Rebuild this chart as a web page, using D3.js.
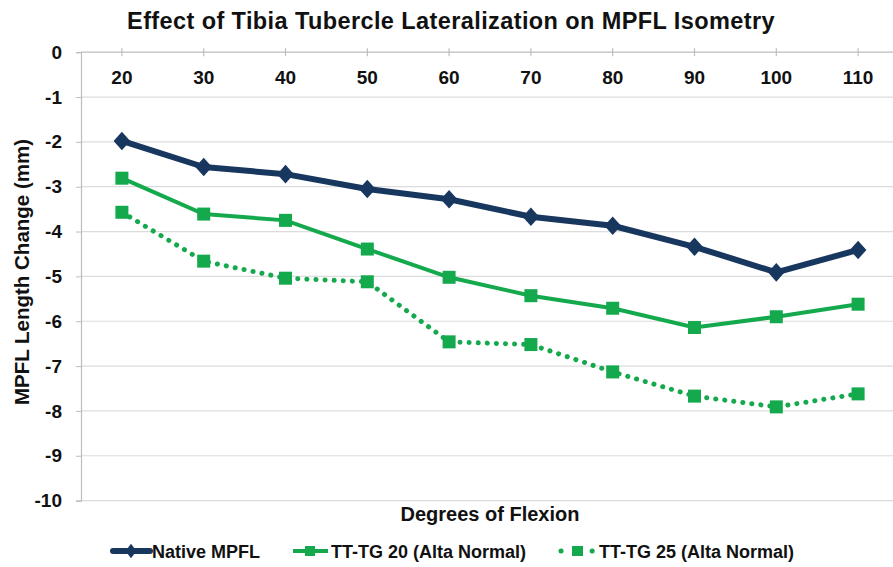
<!DOCTYPE html>
<html><head><meta charset="utf-8">
<script src="https://cdn.jsdelivr.net/npm/d3@7"></script>
<style>body{margin:0;background:#fff}text{font-family:"Liberation Sans",Arial,sans-serif;font-weight:bold;fill:#111}</style>
</head><body><svg id="c" width="893" height="567"></svg>
<script>
const categories = [20,30,40,50,60,70,80,90,100,110];
const nativeMPFL = [-1.98,-2.56,-2.72,-3.05,-3.28,-3.67,-3.87,-4.34,-4.91,-4.41];
const ttTg20 = [-2.81,-3.61,-3.75,-4.39,-5.02,-5.43,-5.71,-6.14,-5.90,-5.62];
const ttTg25 = [-3.57,-4.66,-5.04,-5.12,-6.46,-6.52,-7.13,-7.67,-7.91,-7.62];
const yTicks = [0,-1,-2,-3,-4,-5,-6,-7,-8,-9,-10];
const seriesNames = ["Native MPFL","TT-TG 20 (Alta Normal)","TT-TG 25 (Alta Normal)"];

const svg = d3.select("#c");
const navy = "#17375e", green = "#14a94d";
const x = d3.scaleBand().domain(categories).range([81, 81 + 81.8*10]);
const cx = d => x(d) + x.bandwidth()/2;
const y = d3.scaleLinear().domain([-10,0]).range([500.6,52.2]);

// gridlines
svg.append("g").selectAll("line").data(yTicks.filter(d=>d!==0)).join("line")
  .attr("x1",81).attr("x2",893).attr("y1",d=>y(d)).attr("y2",d=>y(d))
  .attr("stroke","#dcdcdc").attr("stroke-width",1.2);

// y axis
const ya = svg.append("g").attr("transform","translate(81,0)")
  .call(d3.axisLeft(y).tickValues(yTicks).tickSize(5).tickPadding(14).tickFormat(d=>String(d)));
ya.select(".domain").attr("stroke","#bdbdbd").attr("stroke-width",1.2);
ya.selectAll(".tick line").attr("stroke","#bdbdbd");
ya.selectAll("text").style("font-size","19px").attr("fill","#111");

// top x axis at y=0
const xa = svg.append("g").attr("transform",`translate(0,${y(0)})`)
  .call(d3.axisBottom(x).tickSize(0).tickPadding(18));
xa.select(".domain").remove();
svg.append("line").attr("x1",81).attr("x2",893).attr("y1",y(0)).attr("y2",y(0)).attr("stroke","#bdbdbd").attr("stroke-width",1.2);
svg.append("g").selectAll("line").data(categories).join("line")
  .attr("x1",cx).attr("x2",cx).attr("y1",y(0)-4).attr("y2",y(0)+4).attr("stroke","#bdbdbd").attr("stroke-width",1.2);
xa.selectAll("text").style("font-size","19px").attr("fill","#111");

// title and axis titles
svg.append("text").attr("x",451).attr("y",29).attr("text-anchor","middle").style("font-size","23.5px").style("letter-spacing","0.4px").text("Effect of Tibia Tubercle Lateralization on MPFL Isometry");
svg.append("text").attr("transform","translate(29,272) rotate(-90)").attr("text-anchor","middle").style("font-size","20.5px").text("MPFL Length Change (mm)");
svg.append("text").attr("x",490).attr("y",521).attr("text-anchor","middle").style("font-size","20px").text("Degrees of Flexion");

const line = d3.line().x((d,i)=>cx(categories[i])).y(d=>y(d));
// series 3 dotted
svg.append("path").datum(ttTg25).attr("d",line).attr("fill","none").attr("stroke",green)
  .attr("stroke-width",5).attr("stroke-linecap","round").attr("stroke-dasharray","0.1 9");
svg.append("path").datum(ttTg20).attr("d",line).attr("fill","none").attr("stroke",green).attr("stroke-width",4);
svg.append("path").datum(nativeMPFL).attr("d",line).attr("fill","none").attr("stroke",navy).attr("stroke-width",6).attr("stroke-linejoin","round");

const sq = 13;
[ttTg25, ttTg20].forEach(s=>{
  svg.append("g").selectAll("rect").data(s).join("rect")
    .attr("x",(d,i)=>cx(categories[i])-sq/2).attr("y",d=>y(d)-sq/2).attr("width",sq).attr("height",sq).attr("fill",green);
});
const diamond = d3.symbol().type(d3.symbolDiamond).size(100);
svg.append("g").selectAll("path").data(nativeMPFL).join("path")
  .attr("d",diamond).attr("transform",(d,i)=>`translate(${cx(categories[i])},${y(d)}) scale(1.55,1)`).attr("fill",navy);

// legend
const ly = 551;
const lg = svg.append("g");
lg.append("line").attr("x1",113).attr("x2",150).attr("y1",ly).attr("y2",ly).attr("stroke",navy).attr("stroke-width",6).attr("stroke-linecap","round");
lg.append("path").attr("d",d3.symbol().type(d3.symbolDiamond).size(60)).attr("transform",`translate(131,${ly}) scale(1.3,1)`).attr("fill",navy);
lg.append("text").attr("x",152).attr("y",ly+6.5).style("font-size","18px").text(seriesNames[0]);
lg.append("line").attr("x1",293).attr("x2",328).attr("y1",ly).attr("y2",ly).attr("stroke",green).attr("stroke-width",4);
lg.append("rect").attr("x",305).attr("y",ly-5).attr("width",10).attr("height",10).attr("fill",green);
lg.append("text").attr("x",331).attr("y",ly+6.5).style("font-size","18px").text(seriesNames[1]);
lg.append("line").attr("x1",561).attr("x2",593).attr("y1",ly).attr("y2",ly).attr("stroke",green).attr("stroke-width",5).attr("stroke-linecap","round").attr("stroke-dasharray","0.1 31");
lg.append("rect").attr("x",572).attr("y",ly-5).attr("width",11).attr("height",10).attr("fill",green);
lg.append("text").attr("x",599).attr("y",ly+6.5).style("font-size","18px").text(seriesNames[2]);
</script></body></html>
